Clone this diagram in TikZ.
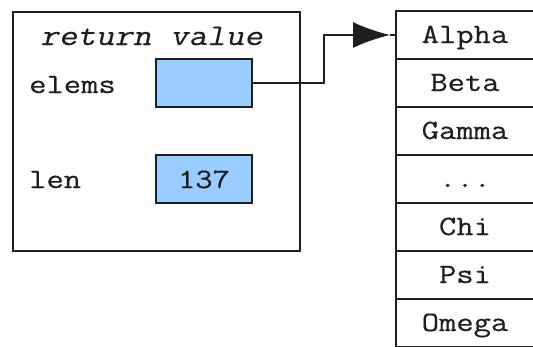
\documentclass[tikz,border=0pt]{standalone}
\usepackage{fontspec}
\newfontfamily\codefont{Latin Modern Mono}[FakeStretch=1.2,FakeBold=0.3]
\newfontfamily\codeslant{Latin Modern Mono}[FakeStretch=1.2,FakeBold=0.3,FakeSlant=0.22]
\usetikzlibrary{arrows.meta}
\definecolor{boxblue}{HTML}{99CCFF}
\definecolor{ink}{HTML}{1E1E1E}
\begin{document}
\begin{tikzpicture}[x=1pt,y=-1pt,
  every node/.style={font=\codefont\fontsize{28}{30}\selectfont, text=ink},
  frame/.style={draw=ink, line width=1.5pt},
  valbox/.style={frame, fill=boxblue, minimum width=96pt, minimum height=48pt, inner sep=0pt, text height=21pt, text depth=3pt},
  cell/.style={frame, fill=white, minimum width=138pt, minimum height=48pt, inner sep=0pt, text height=20pt, text depth=4pt},
  lbl/.style={anchor=base west, inner sep=0pt},
  conn/.style={draw=ink, line width=1.5pt}
]
\useasboundingbox (0,0) rectangle (533,346);
\fill[white] (0,0) rectangle (533,346);
% outer frame
\node[frame, minimum width=287pt, minimum height=239pt, inner sep=0pt, anchor=north west] (outer) at (12,11) {};
\node[lbl, font=\codeslant\fontsize{30}{31}\selectfont] (title) at (40,45) {return value};
\node[lbl] (elemslbl) at (29,93) {elems};
\node[lbl] (lenlbl) at (29,188) {len};
\node[valbox] (elems) at (204,83) {};
\node[valbox] (len) at (204,179) {137};
% array cells
\node[cell] (alpha) at (465,35) {Alpha};
\node[cell] (beta) at (465,83) {Beta};
\node[cell] (gamma) at (465,131) {Gamma};
\node[cell] (dots) at (465,179) {...};
\node[cell] (chi) at (465,227) {Chi};
\node[cell] (psi) at (465,275) {Psi};
\node[cell] (omega) at (465,323) {Omega};
% connector
\coordinate (tip) at (390,35);
\draw[conn, -{Latex[length=37pt,width=26pt]}] (elems.east) -- ++(71,0) |- (tip);
\draw[conn] (tip) -- (alpha.west);
\end{tikzpicture}
\end{document}
